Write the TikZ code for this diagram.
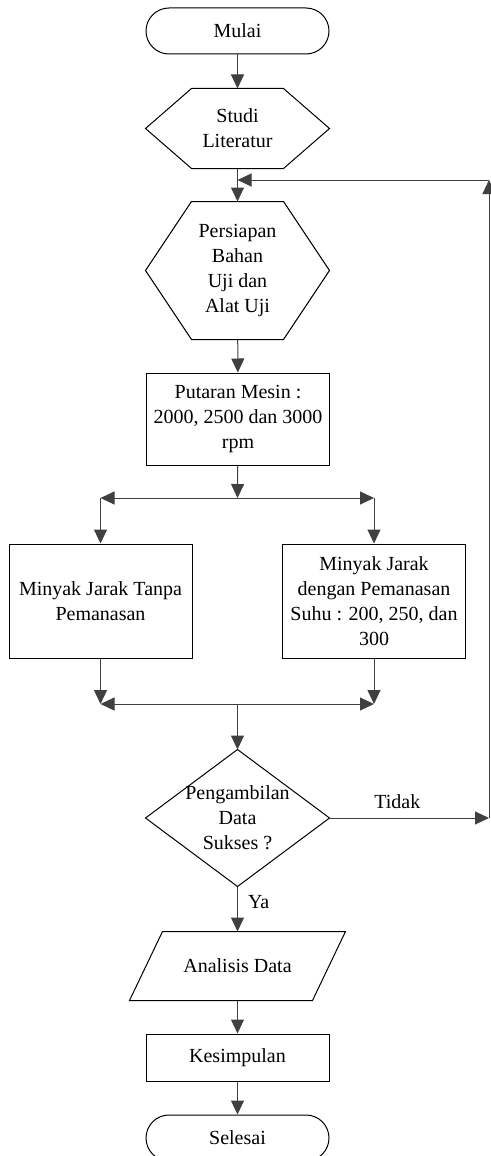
\documentclass[tikz,border=0pt]{standalone}
\usepackage{fontspec}
\setmainfont{Liberation Serif}
\usetikzlibrary{arrows.meta}

\begin{document}
\begin{tikzpicture}[x = 0.5pt, y = -0.5pt, line width = 0.5pt, >={Triangle[length = 7pt, width = 6.5pt]}]
    \tikzstyle{every node} = [font = \fontsize{10}{12.5}\selectfont, align = center, inner sep = 0pt];
    \tikzstyle{terminal} = [draw, rounded corners = 11.5pt, minimum width = 91.5pt, minimum height = 23pt];
    \tikzstyle{proses} = [draw, minimum width = 91.5pt];
    \tikzstyle{bentuk} = [minimum width = 91.5pt];
    \tikzstyle{garis} = [draw = black!75, ->];
    \useasboundingbox (0,0) rectangle (491,1156);
    % nodes:
    \node[terminal] (mulai) at (237.5,31){Mulai};
    \node[bentuk, minimum height = 39.5pt] (studi) at (237.5,128.5){Studi\\Literatur};
    \node[bentuk, minimum height = 68.5pt] (persiapan) at (237.5,270.5){Persiapan\\Bahan\\Uji dan\\Alat Uji};
    \node[proses, minimum height = 46pt] (putaran) at (238,419){Putaran Mesin :\\2000, 2500 dan 3000\\rpm};
    \node[proses, minimum height = 57pt] (tanpa) at (100.5,601){Minyak Jarak Tanpa\\Pemanasan};
    \node[proses, minimum height = 57pt] (panas) at (374,601){Minyak Jarak\\dengan Pemanasan\\Suhu : 200, 250, dan\\300};
    \node[bentuk, minimum height = 68pt] (cek) at (237.5,818){Pengambilan\\Data\\Sukses ?};
    \node[minimum width = 107.5pt, minimum height = 34pt] (analisis) at (237.5,966){Analisis Data};
    \node[proses, minimum height = 23.5pt] (kesimpulan) at (237.5,1057.5){Kesimpulan};
    \node[terminal] (selesai) at (237.5,1138){Selesai};
    % points:
    \coordinate (bagi) at (237.5,498);
    \coordinate (bagiL) at (100.5,498);
    \coordinate (bagiR) at (374,498);
    \coordinate (gabung) at (237.5,704);
    \coordinate (gabungL) at (100.5,704);
    \coordinate (gabungR) at (374,704);
    \coordinate (kanan) at (489,818);
    \coordinate (kananAtas) at (489,180);
    \coordinate (balik) at (237.5,180);
    % shapes:
    \draw (studi.west) -- ([xshift = 23pt]studi.north west) -- ([xshift = -23pt]studi.north east) -- (studi.east) -- ([xshift = -23pt]studi.south east) -- ([xshift = 23pt]studi.south west) -- cycle;
    \draw (persiapan.west) -- ([xshift = 23pt]persiapan.north west) -- ([xshift = -23pt]persiapan.north east) -- (persiapan.east) -- ([xshift = -23pt]persiapan.south east) -- ([xshift = 23pt]persiapan.south west) -- cycle;
    \draw (cek.north) -- (cek.east) -- (cek.south) -- (cek.west) -- cycle;
    \draw ([xshift = 16.5pt]analisis.north west) -- (analisis.north east) -- ([xshift = -16.5pt]analisis.south east) -- (analisis.south west) -- cycle;
    % lines:
    \draw[garis] (mulai) -- (studi);
    \draw[garis] (studi) -- (persiapan);
    \draw[garis] (persiapan) -- (putaran);
    \draw[garis] (putaran) -- (bagi);
    \draw[garis] (bagi) -- (bagiL); \draw[garis] (bagi) -- (bagiR);
    \draw[garis] (bagiL) -- (tanpa); \draw[garis] (bagiR) -- (panas);
    \draw[garis] (tanpa) -- (gabungL); \draw[garis] (panas) -- (gabungR);
    \draw[garis] (gabung) -- (gabungL); \draw[garis] (gabung) -- (gabungR);
    \draw[garis] (gabung) -- (cek);
    \draw[garis] (cek.east) -- node[pos = 0.425, above = 4.5pt]{Tidak} (kanan);
    \draw[garis] (kanan) -- (kananAtas);
    \draw[garis] (kananAtas) -- (balik);
    \draw[garis] (cek.south) -- node[pos = 0.35, right = 5pt]{Ya} (analisis.north);
    \draw[garis] (analisis) -- (kesimpulan);
    \draw[garis] (kesimpulan) -- (selesai);
\end{tikzpicture}
\end{document}
